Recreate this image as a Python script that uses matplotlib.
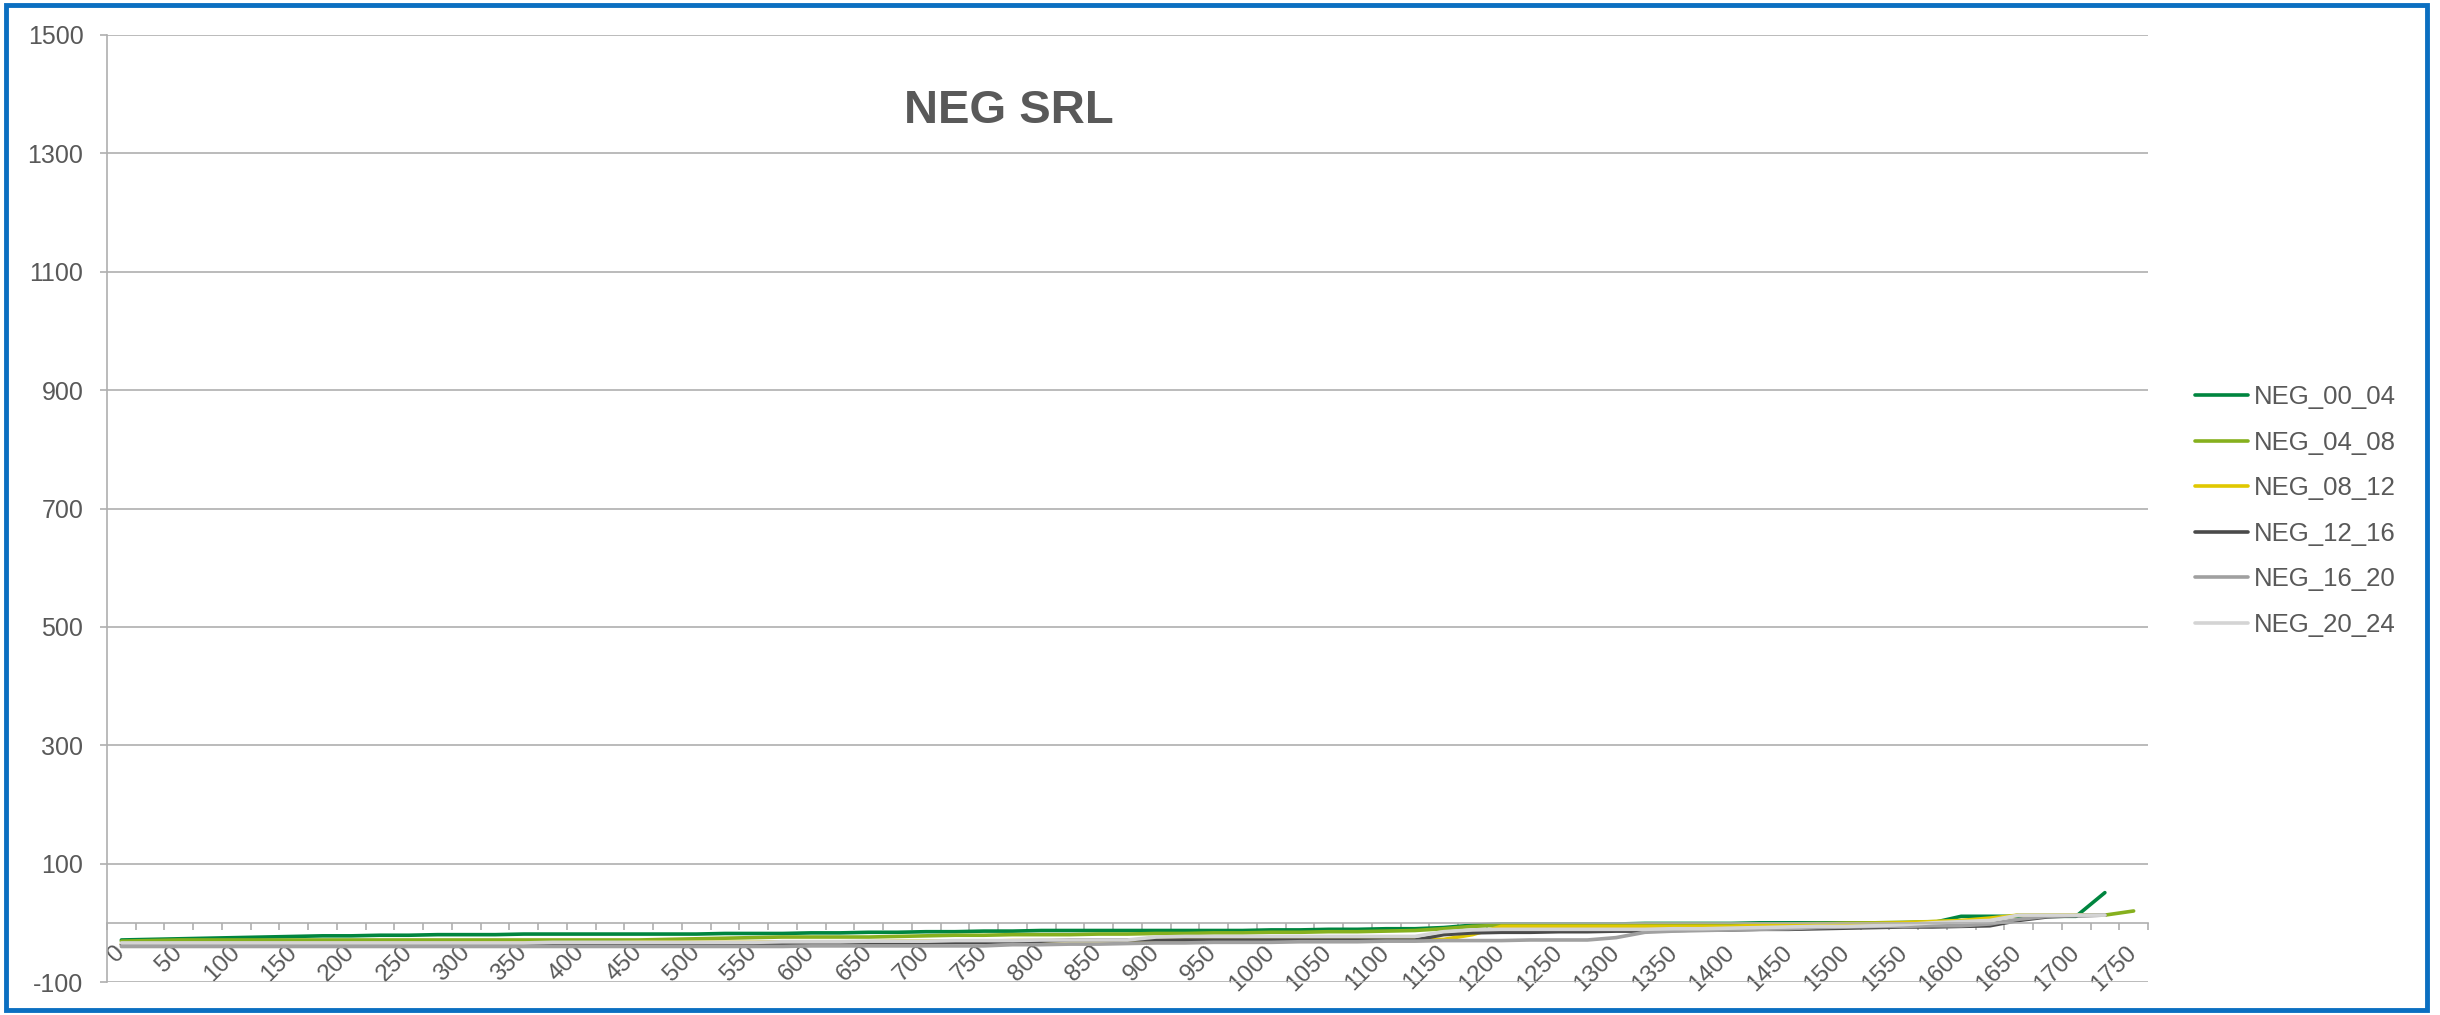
import numpy as np
import matplotlib
matplotlib.use("Agg")
import matplotlib.pyplot as plt
from matplotlib.patches import Rectangle

plt.rcParams['font.family'] = ['Liberation Sans', 'DejaVu Sans']

nan = np.nan

# Category axis: 0 .. 1750 in steps of 25
categories = list(range(0, 1751, 25))

neg_00_04 = [-29, -28, -27, -26, -25, -24, -23, -22, -22, -21, -21, -20, -20, -20, -19, -19,
             -19, -19, -19, -19, -19, -18, -18, -18, -17, -17, -16, -16, -15, -15, -14, -14,
             -13, -13, -13, -13, -13, -13, -13, -13, -12, -12, -11, -11, -10, -10, -8, -4,
             -2, -2, -2, -2, -2, -1, -1, -1, -1, 0, 0, 0, 0, 0, 0, 0,
             11, 11, 11, 11, 11, 51, nan]
neg_04_08 = [-31, -30, -29, -29, -29, -29, -29, -29, -29, -29, -29, -29, -29, -29, -29, -29,
             -29, -29, -29, -28, -27, -26, -25, -24, -24, -24, -24, -23, -22, -21, -21, -20,
             -20, -20, -19, -19, -18, -18, -17, -17, -16, -16, -15, -15, -14, -13, -10, -6,
             -4, -4, -4, -4, -4, -3, -3, -3, -3, -2, -2, -1, -1, 0, 1, 2,
             3, 5, 13, 13, 13, 13, 20]
neg_08_12 = [-36, -36, -36, -36, -36, -36, -35, -35, -35, -35, -35, -35, -34, -34, -34, -34,
             -34, -34, -33, -33, -33, -33, -33, -32, -32, -32, -32, -31, -31, -31, -31, -30,
             -30, -30, -30, -30, -29, -29, -29, -29, -29, -29, -29, -29, -29, -29, -28, -20,
             -6, -6, -6, -6, -6, -6, -6, -6, -6, -4, -3, -2, -1, -1, 0, 2,
             4, 8, 13, 13, 13, 13, nan]
neg_12_16 = [-37, -37, -37, -37, -37, -37, -37, -37, -37, -37, -37, -37, -37, -37, -37, -37,
             -37, -37, -37, -37, -37, -36, -36, -35, -35, -35, -34, -34, -34, -33, -33, -32,
             -31, -29, -29, -29, -29, -29, -29, -29, -29, -29, -29, -29, -29, -29, -20, -17,
             -16, -16, -15, -15, -14, -14, -13, -12, -12, -11, -11, -10, -9, -8, -7, -7,
             -6, -5, 4, 10, 12, 13, nan]
neg_16_20 = [-40, -40, -40, -40, -40, -40, -40, -40, -40, -40, -40, -40, -40, -40, -40, -40,
             -40, -40, -40, -40, -40, -40, -40, -40, -39, -39, -39, -39, -39, -39, -39, -37,
             -37, -36, -36, -35, -34, -34, -33, -33, -33, -32, -32, -32, -31, -31, -30, -30,
             -30, -29, -29, -29, -25, -16, -14, -13, -12, -11, -10, -8, -7, -6, -6, -5,
             -5, -2, 6, 11, 12, 13, nan]
neg_20_24 = [-34, -34, -34, -34, -34, -34, -34, -34, -34, -34, -34, -34, -34, -34, -34, -33,
             -33, -33, -33, -33, -33, -33, -33, -32, -32, -32, -31, -31, -31, -30, -30, -30,
             -29, -29, -29, -29, -24, -23, -23, -23, -23, -23, -23, -23, -23, -23, -15, -12,
             -11, -11, -11, -11, -11, -11, -10, -10, -9, -8, -7, -6, -6, -5, -3, 0,
             2, 4, 13, 13, 13, 13, nan]

series_names = ["NEG_00_04", "NEG_04_08", "NEG_08_12", "NEG_12_16", "NEG_16_20", "NEG_20_24"]
series_values = [neg_00_04, neg_04_08, neg_08_12, neg_12_16, neg_16_20, neg_20_24]
series_colors = ["#00853F", "#86B01E", "#E0C800", "#4A4A4A", "#A0A0A0", "#D4D4D4"]

y_ticks = list(range(-100, 1501, 200))

TEXT = "#595959"
GRID = "#AFAFAF"

W, H = 2440, 1015
fig = plt.figure(figsize=(W / 100, H / 100), dpi=100)
fig.patch.set_facecolor("white")

left, right, top, bottom = 107, 2148, 35, 982
ax = fig.add_axes([left / W, 1 - bottom / H, (right - left) / W, (bottom - top) / H])

x = np.arange(len(categories))
for name, vals, col in zip(series_names, series_values, series_colors):
    ax.plot(x, vals, color=col, lw=2.6, label=name, solid_capstyle="round",
            solid_joinstyle="round")

ax.set_xlim(-0.5, len(categories) - 0.5)
ax.set_ylim(-100, 1500)

# Horizontal gridlines
ax.set_yticks(y_ticks)
ax.set_yticklabels([str(v) for v in y_ticks])
ax.yaxis.grid(True, color=GRID, lw=1.2)
ax.set_axisbelow(True)

# Category axis crosses at zero
ax.spines["bottom"].set_position(("data", 0))
for s in ["top", "right"]:
    ax.spines[s].set_visible(False)
for s in ["bottom", "left"]:
    ax.spines[s].set_color(GRID)
    ax.spines[s].set_linewidth(1.2)

ax.set_xticks(x[::2])
ax.set_xticklabels([str(categories[i]) for i in x[::2]], rotation=45, ha="right",
                   va="center", rotation_mode="anchor")
ax.set_xticks(np.arange(-0.5, len(categories)), minor=True)
ax.tick_params(axis="x", which="major", length=0, pad=19, labelsize=17.5, labelcolor=TEXT)
ax.tick_params(axis="x", which="minor", length=5, width=1.2, color=GRID, direction="out")
ax.tick_params(axis="y", which="major", length=5, width=1.2, color=GRID, pad=12,
               labelsize=18, labelcolor=TEXT)

fig.text(1009 / W, 1 - 111 / H, "NEG SRL", fontsize=34, fontweight="bold", color=TEXT,
         ha="center", va="center")

fig.legend(loc="center left", bbox_to_anchor=(2195 / W, 1 - 511 / H), frameon=False,
           fontsize=18.5, labelcolor=TEXT, handlelength=2.06, handletextpad=0.23,
           labelspacing=0.84, borderpad=0, borderaxespad=0)

fig.add_artist(Rectangle((6 / W, 5 / H), 2421 / W, 1005 / H, transform=fig.transFigure,
                         fill=False, edgecolor="#0B6FC1", lw=3.5))

fig.savefig("out.png", dpi=100, facecolor="white")
